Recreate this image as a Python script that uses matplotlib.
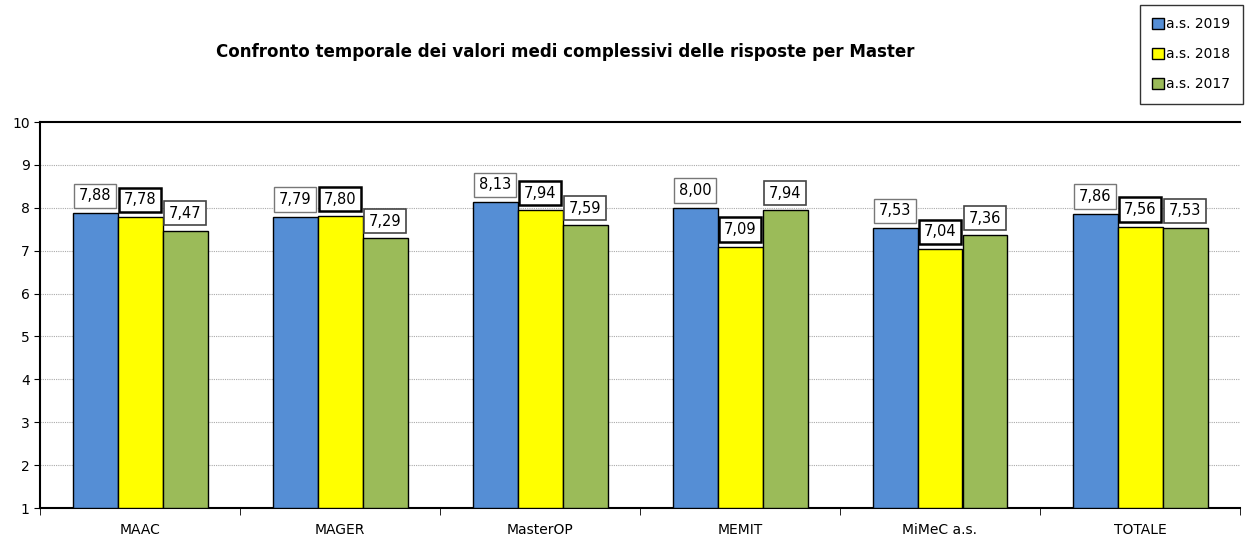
import matplotlib
matplotlib.use("Agg")
import matplotlib.pyplot as plt
import numpy as np
from matplotlib.patches import Patch

categories = ["MAAC", "MAGER", "MasterOP", "MEMIT", "MiMeC a.s.", "TOTALE"]
series_names = ["a.s. 2019", "a.s. 2018", "a.s. 2017"]
v2019 = [7.88, 7.79, 8.13, 8.00, 7.53, 7.86]
v2018 = [7.78, 7.80, 7.94, 7.09, 7.04, 7.56]
v2017 = [7.47, 7.29, 7.59, 7.94, 7.36, 7.53]
colors = ["#558ED5", "#FFFF00", "#9BBB59"]
label_edges = ["#777777", "#000000", "#444444"]
label_lw = [1.0, 1.8, 1.2]

fig = plt.figure(figsize=(12.45, 5.37), dpi=100)
ax = fig.add_axes([40/1245, 29/537, 1200/1245, 386/537])

x = np.arange(len(categories))
w = 0.225
series = [v2019, v2018, v2017]
for i, vals in enumerate(series):
    pos = x + (i - 1) * w
    ax.bar(pos, np.array(vals) - 1, bottom=1, width=w, color=colors[i],
           edgecolor="black", linewidth=1.0, zorder=3)
    for p, v in zip(pos, vals):
        ax.annotate(f"{v:.2f}".replace(".", ","), (p, v), xytext=(0, 7),
                    textcoords="offset points", ha="center", va="bottom",
                    fontsize=10.5, zorder=5,
                    bbox=dict(boxstyle="square,pad=0.32", fc="white",
                              ec=label_edges[i], lw=label_lw[i]))

ax.set_xlim(-0.5, len(categories) - 0.5)
ax.set_ylim(1, 10)
ax.set_yticks(range(1, 11))
ax.tick_params(axis="y", labelsize=10, length=4, direction="out")
ax.set_xticks(x)
ax.set_xticklabels(categories, fontsize=10)
ax.tick_params(axis="x", length=0, pad=11)
ax.set_xticks(np.arange(-0.5, len(categories)), minor=True)
ax.tick_params(axis="x", which="minor", length=5, direction="out")
for yv in range(2, 10):
    ax.axhline(yv, color="#aaaaaa", lw=0.8, ls=(0, (1, 1)), zorder=1)
for s in ["left", "top", "bottom"]:
    ax.spines[s].set_linewidth(1.5)
ax.spines["right"].set_visible(False)

fig.text(565/1245, 1 - 52/537,
         "Confronto temporale dei valori medi complessivi delle risposte per Master",
         ha="center", va="center", fontsize=12, fontweight="bold")

handles = [Patch(facecolor=c, edgecolor="black", label=n) for c, n in zip(colors, series_names)]
leg = fig.legend(handles=handles, loc="upper right", bbox_to_anchor=(1243/1245, 1 - 5/537),
                 fontsize=10, frameon=True, fancybox=False, edgecolor="black",
                 handlelength=0.8, handleheight=0.8, handletextpad=0.2,
                 labelspacing=1.15, borderpad=0.9, borderaxespad=0)
leg.get_frame().set_linewidth(1.0)

fig.savefig("out.png", dpi=100)
